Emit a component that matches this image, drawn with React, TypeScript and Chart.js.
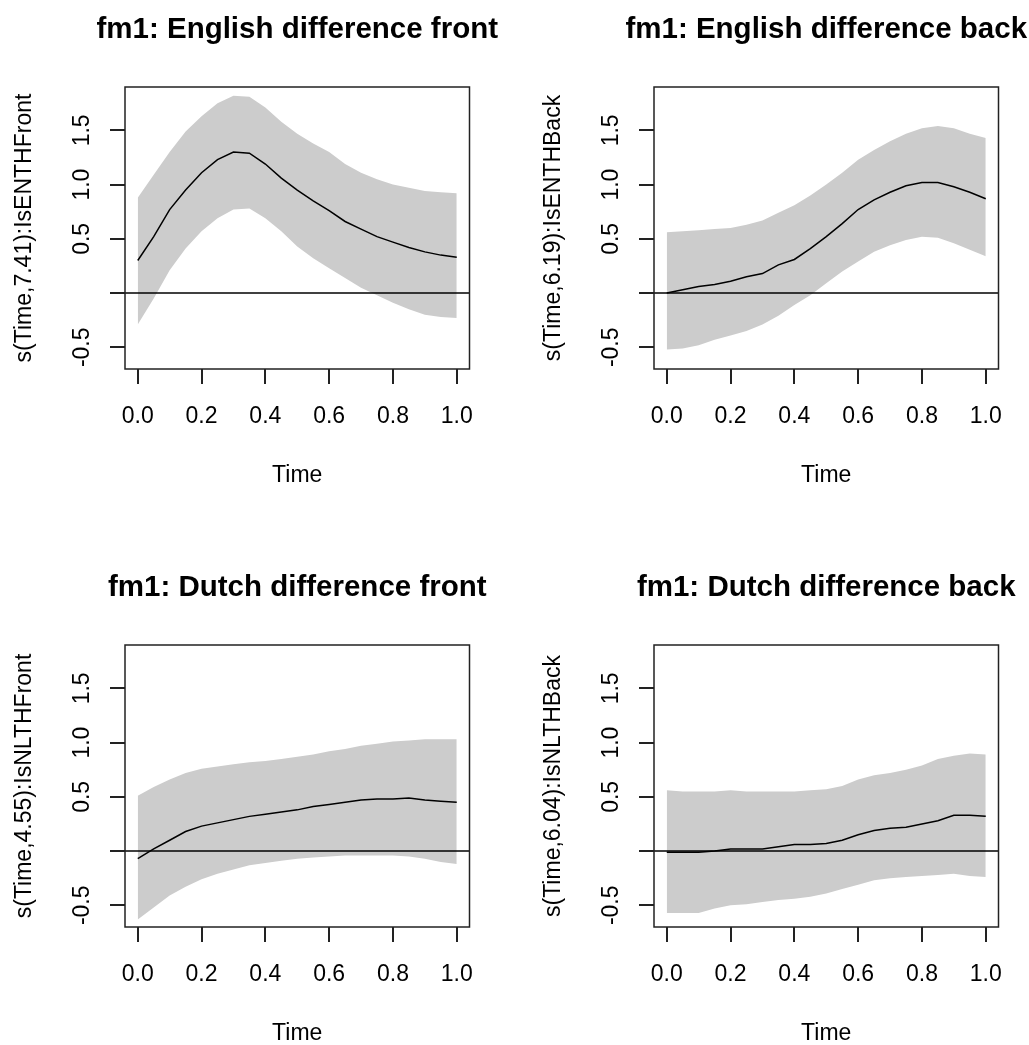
import React, { useEffect, useRef } from 'react';
import { Chart, registerables } from 'chart.js';

Chart.register(...registerables);

// ---------- data ----------
const TIME = [0, 0.05, 0.1, 0.15, 0.2, 0.25, 0.3, 0.35, 0.4, 0.45, 0.5, 0.55, 0.6, 0.65, 0.7, 0.75, 0.8, 0.85, 0.9, 0.95, 1.0];

const X_TICKS = [0, 0.2, 0.4, 0.6, 0.8, 1.0];
const X_TICK_LABELS = ['0.0', '0.2', '0.4', '0.6', '0.8', '1.0'];
const Y_TICKS = [-0.5, 0, 0.5, 1.0, 1.5];
const Y_TICK_LABELS = ['-0.5', '', '0.5', '1.0', '1.5'];
const X_LIMITS = [-0.04, 1.04];
const Y_LIMITS = [-0.7, 1.9];
const REFERENCE_Y = 0;

const TITLES = [
  'fm1: English difference front',
  'fm1: English difference back',
  'fm1: Dutch difference front',
  'fm1: Dutch difference back',
];
const Y_TITLES = [
  's(Time,7.41):IsENTHFront',
  's(Time,6.19):IsENTHBack',
  's(Time,4.55):IsNLTHFront',
  's(Time,6.04):IsNLTHBack',
];
const X_TITLE = 'Time';

const EN_FRONT_FIT = [0.30, 0.52, 0.77, 0.95, 1.11, 1.23, 1.30, 1.29, 1.19, 1.06, 0.95, 0.85, 0.76, 0.66, 0.59, 0.52, 0.47, 0.42, 0.38, 0.35, 0.33];
const EN_FRONT_UPPER = [0.88, 1.09, 1.30, 1.49, 1.63, 1.75, 1.82, 1.81, 1.71, 1.58, 1.47, 1.38, 1.30, 1.19, 1.11, 1.05, 1.00, 0.97, 0.94, 0.93, 0.92];
const EN_FRONT_LOWER = [-0.29, -0.05, 0.21, 0.41, 0.57, 0.69, 0.77, 0.78, 0.69, 0.57, 0.43, 0.32, 0.23, 0.14, 0.05, -0.02, -0.09, -0.15, -0.20, -0.22, -0.23];

const EN_BACK_FIT = [0.00, 0.03, 0.06, 0.08, 0.11, 0.15, 0.18, 0.26, 0.31, 0.41, 0.52, 0.64, 0.77, 0.86, 0.93, 0.99, 1.02, 1.02, 0.98, 0.93, 0.87];
const EN_BACK_UPPER = [0.56, 0.57, 0.58, 0.59, 0.60, 0.63, 0.67, 0.74, 0.81, 0.90, 1.00, 1.11, 1.23, 1.32, 1.40, 1.47, 1.52, 1.54, 1.52, 1.47, 1.43];
const EN_BACK_LOWER = [-0.52, -0.51, -0.48, -0.43, -0.39, -0.35, -0.29, -0.21, -0.11, -0.02, 0.09, 0.20, 0.29, 0.38, 0.44, 0.49, 0.52, 0.51, 0.46, 0.40, 0.34];

const NL_FRONT_FIT = [-0.07, 0.02, 0.10, 0.18, 0.23, 0.26, 0.29, 0.32, 0.34, 0.36, 0.38, 0.41, 0.43, 0.45, 0.47, 0.48, 0.48, 0.49, 0.47, 0.46, 0.45];
const NL_FRONT_UPPER = [0.51, 0.59, 0.66, 0.72, 0.76, 0.78, 0.80, 0.82, 0.83, 0.85, 0.87, 0.89, 0.92, 0.94, 0.97, 0.99, 1.01, 1.02, 1.03, 1.03, 1.03];
const NL_FRONT_LOWER = [-0.63, -0.52, -0.41, -0.33, -0.26, -0.21, -0.17, -0.13, -0.11, -0.09, -0.07, -0.06, -0.05, -0.04, -0.04, -0.04, -0.04, -0.05, -0.07, -0.10, -0.12];

const NL_BACK_FIT = [-0.01, -0.01, -0.01, 0.00, 0.02, 0.02, 0.02, 0.04, 0.06, 0.06, 0.07, 0.10, 0.15, 0.19, 0.21, 0.22, 0.25, 0.28, 0.33, 0.33, 0.32];
const NL_BACK_UPPER = [0.56, 0.55, 0.55, 0.55, 0.56, 0.55, 0.55, 0.55, 0.55, 0.56, 0.57, 0.60, 0.66, 0.70, 0.72, 0.75, 0.79, 0.85, 0.88, 0.90, 0.89];
const NL_BACK_LOWER = [-0.57, -0.57, -0.57, -0.53, -0.50, -0.49, -0.47, -0.45, -0.44, -0.42, -0.39, -0.35, -0.31, -0.27, -0.25, -0.24, -0.23, -0.22, -0.21, -0.23, -0.24];

const FITS = [EN_FRONT_FIT, EN_BACK_FIT, NL_FRONT_FIT, NL_BACK_FIT];
const UPPERS = [EN_FRONT_UPPER, EN_BACK_UPPER, NL_FRONT_UPPER, NL_BACK_UPPER];
const LOWERS = [EN_FRONT_LOWER, EN_BACK_LOWER, NL_FRONT_LOWER, NL_BACK_LOWER];

// ---------- layout ----------
const CANVAS_W = 620;
const CANVAS_H = 558;
const PAD_LEFT = 20;
const Y_AXIS_W = 120;
const PLOT_W = 344.5;
const RIGHT_SPACER_W = 120; // keeps the (full-width) title centred over the plot
const PANEL_POS = [
  { left: -15, top: 0 },
  { left: 514, top: 0 },
  { left: -15, top: 558 },
  { left: 514, top: 558 },
];

const FONT = "'Liberation Sans', Arial, Helvetica, sans-serif";
const INK = '#000000';
const TICK_INK = '#222222';
const BAND = '#CCCCCC';

const boxPlugin = {
  id: 'rbox',
  afterDatasetsDraw(chart: any) {
    const { ctx, chartArea, scales } = chart;
    ctx.save();
    // abline(h = 0)
    const y0 = scales.y.getPixelForValue(REFERENCE_Y);
    ctx.beginPath();
    ctx.lineWidth = 1.5;
    ctx.strokeStyle = INK;
    ctx.moveTo(chartArea.left, y0);
    ctx.lineTo(chartArea.right, y0);
    ctx.stroke();
    // box
    ctx.lineWidth = 1.5;
    ctx.strokeStyle = TICK_INK;
    ctx.strokeRect(chartArea.left, chartArea.top, chartArea.right - chartArea.left, chartArea.bottom - chartArea.top);
    ctx.restore();
  },
};

function toPoints(ys: number[]) {
  return TIME.map((t, i) => ({ x: t, y: ys[i] }));
}

function Panel({ idx }: { idx: number }) {
  const ref = useRef<HTMLCanvasElement | null>(null);
  useEffect(() => {
    if (!ref.current) return;
    const chart = new Chart(ref.current, {
      type: 'line',
      data: {
        datasets: [
          {
            data: toPoints(FITS[idx]),
            borderColor: INK,
            borderWidth: 1.5,
            fill: false,
            pointRadius: 0,
            tension: 0,
            order: 0,
          },
          {
            data: toPoints(UPPERS[idx]),
            borderColor: 'rgba(0,0,0,0)',
            borderWidth: 0,
            backgroundColor: BAND,
            fill: '+1',
            pointRadius: 0,
            tension: 0,
            order: 1,
          },
          {
            data: toPoints(LOWERS[idx]),
            borderColor: 'rgba(0,0,0,0)',
            borderWidth: 0,
            backgroundColor: BAND,
            fill: false,
            pointRadius: 0,
            tension: 0,
            order: 2,
          },
        ],
      },
      options: {
        animation: false,
        responsive: false,
        events: [],
        layout: {
          autoPadding: false,
          padding: {
            left: PAD_LEFT,
            top: 0,
            right: CANVAS_W - (PAD_LEFT + Y_AXIS_W + PLOT_W + RIGHT_SPACER_W),
            bottom: CANVAS_H - 489,
          },
        },
        plugins: {
          legend: { display: false },
          tooltip: { enabled: false },
          title: {
            display: true,
            text: TITLES[idx],
            fullSize: true,
            position: 'top',
            color: INK,
            font: { family: FONT, size: 29.5, weight: 'bold', lineHeight: 1.2 },
            padding: { top: 12, bottom: 39.6 },
          },
        },
        scales: {
          x: {
            type: 'linear',
            position: 'bottom',
            min: X_LIMITS[0],
            max: X_LIMITS[1],
            afterBuildTicks: (scale: any) => {
              scale.ticks = X_TICKS.map((v) => ({ value: v }));
            },
            afterFit: (scale: any) => {
              scale.height = 120;
              scale.paddingLeft = 0;
              scale.paddingRight = 0;
              scale.paddingTop = 0;
              scale.paddingBottom = 0;
            },
            ticks: {
              autoSkip: false,
              maxRotation: 0,
              minRotation: 0,
              padding: 19,
              color: INK,
              font: { family: FONT, size: 23, lineHeight: 1.2 },
              callback: (_v: any, i: number) => X_TICK_LABELS[i],
            },
            grid: {
              display: true,
              drawOnChartArea: false,
              drawTicks: true,
              tickLength: 15,
              color: TICK_INK,
              lineWidth: 2,
            },
            border: { display: false },
            title: {
              display: true,
              text: X_TITLE,
              color: INK,
              font: { family: FONT, size: 23, lineHeight: 1.2 },
              padding: { top: 0, bottom: 0 },
            },
          },
          y: {
            type: 'linear',
            position: 'left',
            min: Y_LIMITS[0],
            max: Y_LIMITS[1],
            afterBuildTicks: (scale: any) => {
              scale.ticks = Y_TICKS.map((v) => ({ value: v }));
            },
            afterFit: (scale: any) => {
              scale.width = Y_AXIS_W;
              scale.paddingLeft = 0;
              scale.paddingRight = 0;
              scale.paddingTop = 0;
              scale.paddingBottom = 0;
            },
            ticks: {
              autoSkip: false,
              minRotation: 90,
              maxRotation: 90,
              crossAlign: 'center',
              padding: 8,
              color: INK,
              font: { family: FONT, size: 23, lineHeight: 1.2 },
              callback: (_v: any, i: number) => Y_TICK_LABELS[i],
            },
            grid: {
              display: true,
              drawOnChartArea: false,
              drawTicks: true,
              tickLength: 15,
              color: TICK_INK,
              lineWidth: 2,
            },
            border: { display: false },
            title: {
              display: true,
              text: Y_TITLES[idx],
              color: INK,
              font: { family: FONT, size: 23, lineHeight: 1.2 },
              padding: { top: 6.2, bottom: 0 },
            },
          },
          spacer: {
            type: 'linear',
            position: 'right',
            display: true,
            min: Y_LIMITS[0],
            max: Y_LIMITS[1],
            ticks: { display: false },
            grid: { display: false, drawTicks: false },
            border: { display: false },
            title: { display: false },
            afterFit: (scale: any) => {
              scale.width = RIGHT_SPACER_W;
              scale.paddingLeft = 0;
              scale.paddingRight = 0;
              scale.paddingTop = 0;
              scale.paddingBottom = 0;
            },
          },
        },
      },
      plugins: [boxPlugin],
    } as any);
    return () => chart.destroy();
  }, [idx]);

  const pos = PANEL_POS[idx];
  return (
    <canvas
      ref={ref}
      width={CANVAS_W}
      height={CANVAS_H}
      style={{ position: 'absolute', left: pos.left, top: pos.top, width: CANVAS_W, height: CANVAS_H }}
    />
  );
}

export default function App() {
  return (
    <div
      style={{
        position: 'fixed',
        left: 0,
        top: 0,
        width: 1029,
        height: 1045,
        overflow: 'hidden',
        background: '#ffffff',
      }}
    >
      {[0, 1, 2, 3].map((i) => (
        <Panel key={i} idx={i} />
      ))}
    </div>
  );
}
